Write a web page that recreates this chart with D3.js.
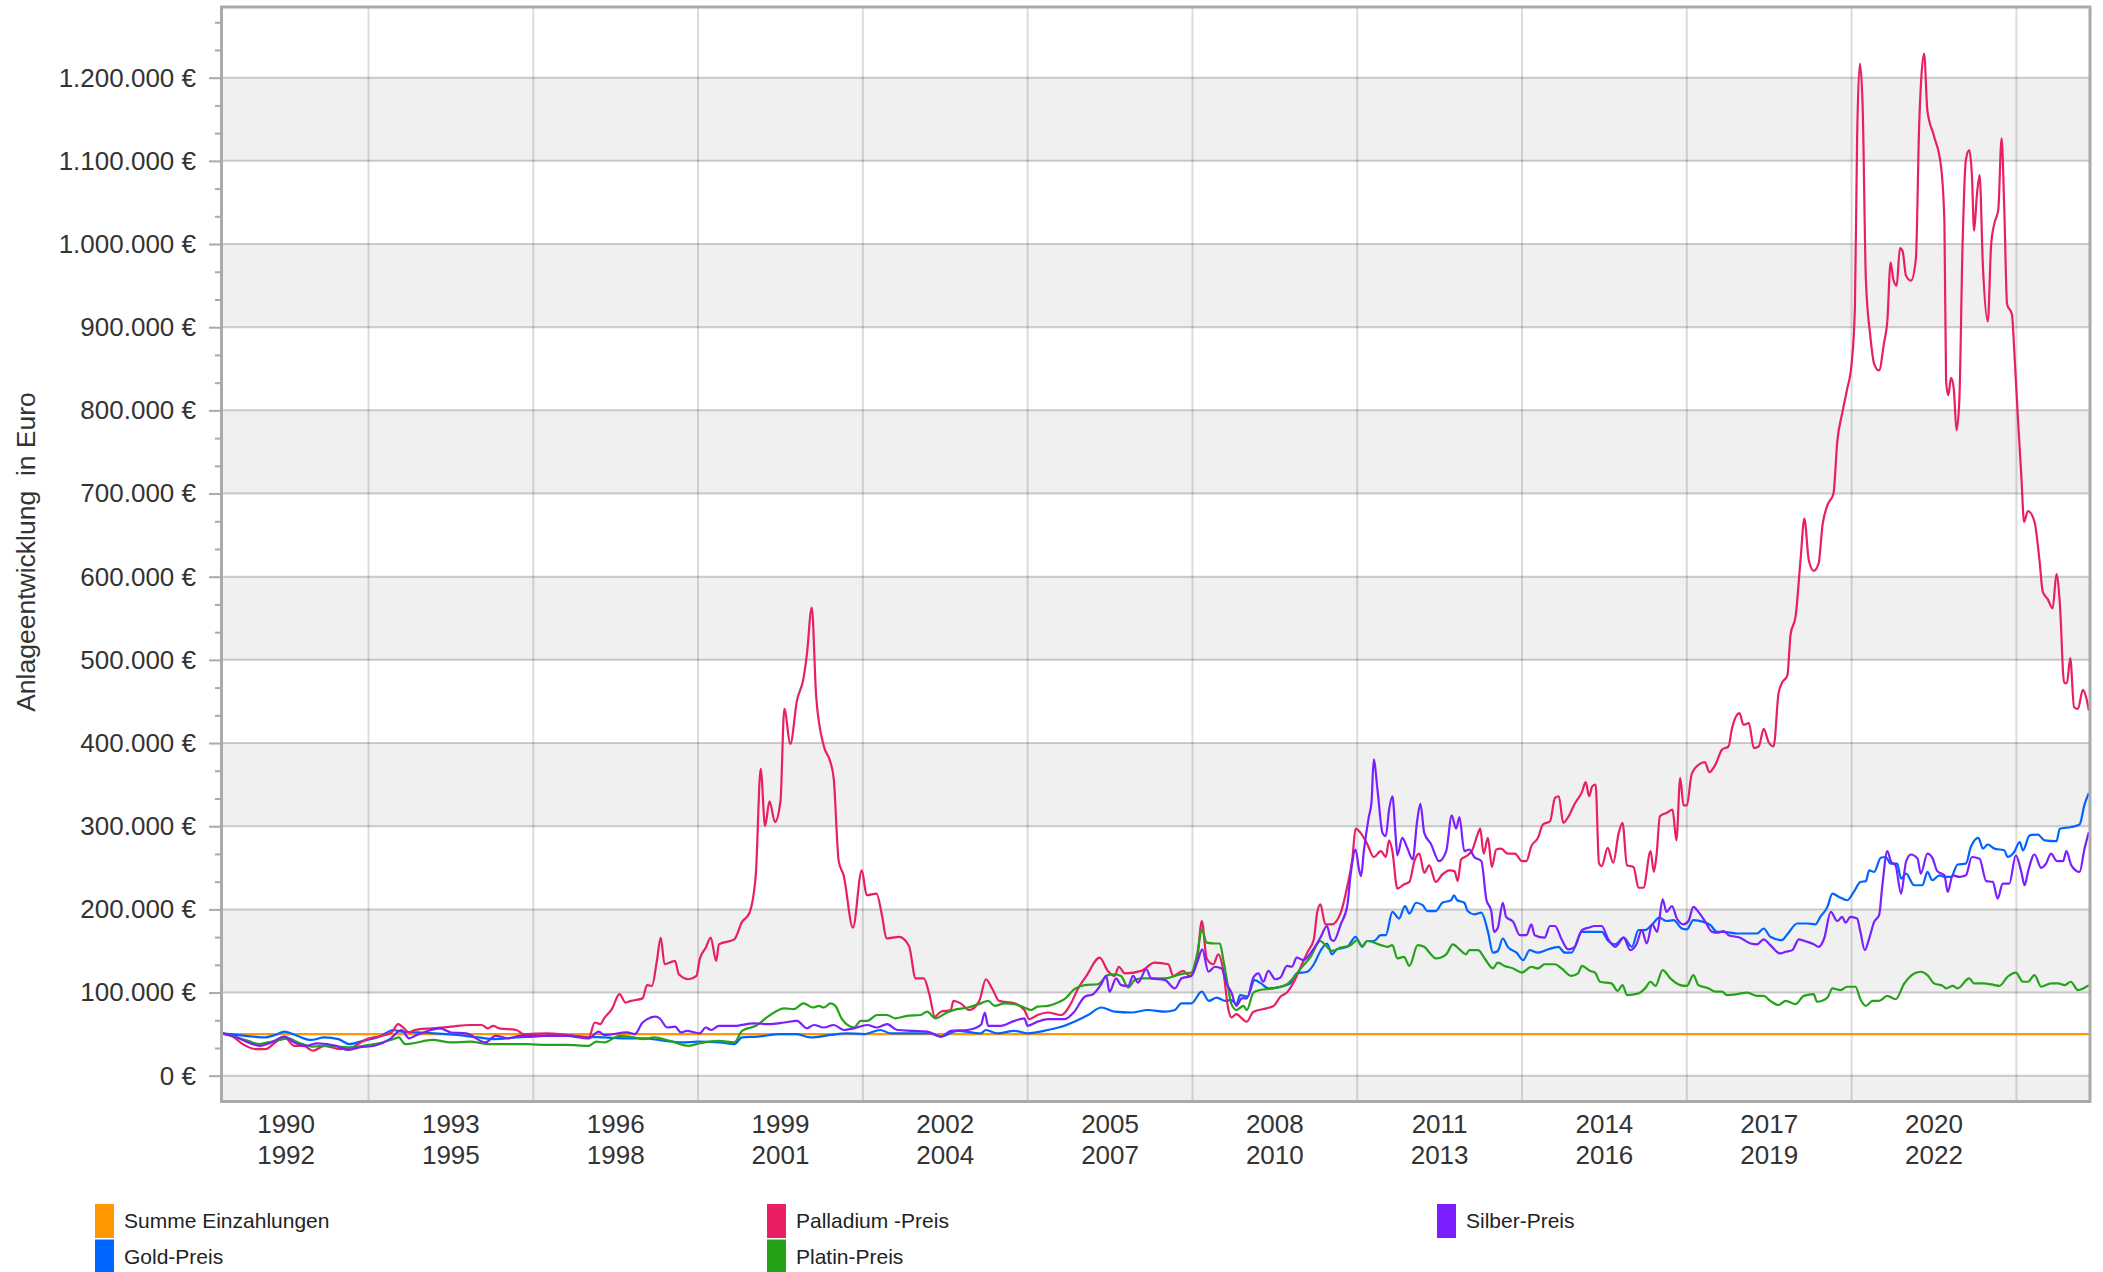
<!DOCTYPE html>
<html><head><meta charset="utf-8">
<script src="https://cdn.jsdelivr.net/npm/d3@7"></script>
<style>body{margin:0;background:#fff}svg{display:block;font-family:"Liberation Sans",Arial,Helvetica,sans-serif}</style>
</head><body><svg id="chart" width="2103" height="1272"></svg>
<script>
// values: [year, thousand EUR]
const summeData = [[1990.33,50],[2024.34,50]];
const goldData = [[1990.33,51],[1990.6,49],[1990.9,47],[1991.1,46],[1991.3,49],[1991.47,53],[1991.7,48],[1991.95,43],[1992.2,46],[1992.45,44],[1992.65,38],[1992.9,42],[1993.2,47],[1993.45,55],[1993.6,53],[1993.9,52],[1994.2,51],[1994.6,49],[1995.0,46],[1995.3,44],[1995.7,46],[1996.0,47],[1996.5,49],[1996.9,47],[1997.3,46],[1997.7,45],[1998.0,45],[1998.4,42],[1998.7,40],[1999.0,41],[1999.4,40],[1999.66,38],[1999.8,46],[2000.08,47],[2000.5,50],[2000.8,50],[2001.04,46],[2001.41,49],[2001.71,51],[2002.02,50],[2002.32,55],[2002.5,51],[2002.93,51],[2003.24,51],[2003.42,47],[2003.72,54],[2004.15,51],[2004.24,55],[2004.45,51],[2004.76,54],[2005.0,51],[2005.37,55],[2005.67,60],[2005.85,65],[2006.1,73],[2006.34,82],[2006.58,77],[2006.89,76],[2007.19,79],[2007.5,77],[2007.68,79],[2007.8,87],[2007.98,87],[2008.17,101],[2008.3,90],[2008.44,94],[2008.6,90],[2008.71,91],[2008.8,86],[2008.87,97],[2009.0,95],[2009.13,115],[2009.25,111],[2009.38,105],[2009.6,107],[2009.78,111],[2009.9,123],[2010.09,125],[2010.21,134],[2010.33,150],[2010.45,159],[2010.54,146],[2010.63,152],[2010.82,155],[2010.97,167],[2011.09,155],[2011.18,162],[2011.3,162],[2011.43,169],[2011.52,169],[2011.64,197],[2011.76,189],[2011.87,204],[2011.95,195],[2012.07,208],[2012.19,205],[2012.28,198],[2012.43,198],[2012.55,208],[2012.71,211],[2012.76,217],[2012.82,211],[2012.95,208],[2013.01,198],[2013.13,194],[2013.26,196],[2013.38,173],[2013.47,148],[2013.56,150],[2013.65,165],[2013.74,155],[2013.9,148],[2014.02,139],[2014.14,151],[2014.29,148],[2014.48,152],[2014.66,155],[2014.78,148],[2014.9,148],[2015.09,173],[2015.21,173],[2015.45,173],[2015.57,162],[2015.7,158],[2015.85,166],[2016.0,155],[2016.12,175],[2016.24,175],[2016.37,182],[2016.5,190],[2016.63,186],[2016.76,187],[2016.91,177],[2017.0,176],[2017.12,187],[2017.3,185],[2017.43,181],[2017.55,173],[2017.67,173],[2017.91,171],[2018.16,171],[2018.28,171],[2018.4,177],[2018.52,167],[2018.73,163],[2018.83,170],[2019.01,183],[2019.19,183],[2019.34,182],[2019.43,191],[2019.56,203],[2019.65,219],[2019.77,215],[2019.92,211],[2020.04,221],[2020.16,233],[2020.26,234],[2020.32,247],[2020.41,245],[2020.53,262],[2020.62,263],[2020.71,255],[2020.83,255],[2020.9,237],[2020.99,243],[2021.14,229],[2021.29,229],[2021.38,245],[2021.47,235],[2021.6,241],[2021.69,239],[2021.81,239],[2021.93,254],[2022.08,255],[2022.17,275],[2022.31,286],[2022.39,273],[2022.48,278],[2022.6,273],[2022.78,271],[2022.84,263],[2022.96,269],[2023.06,281],[2023.12,271],[2023.24,289],[2023.39,290],[2023.51,283],[2023.73,282],[2023.79,297],[2024.0,299],[2024.15,302],[2024.24,326],[2024.32,340]];
const palladiumData = [[1990.33,51],[1990.53,47],[1990.71,38],[1990.95,32],[1991.13,32],[1991.3,40],[1991.47,46],[1991.65,36],[1991.82,36],[1991.99,30],[1992.2,36],[1992.48,32],[1992.69,34],[1992.97,44],[1993.25,48],[1993.42,52],[1993.54,62],[1993.63,58],[1993.74,52],[1993.84,55],[1994.16,57],[1994.51,59],[1994.85,61],[1995.06,61],[1995.17,57],[1995.27,60],[1995.38,57],[1995.69,55],[1995.83,50],[1996.25,51],[1996.6,49],[1997.01,46],[1997.12,64],[1997.22,62],[1997.29,69],[1997.43,80],[1997.57,98],[1997.68,88],[1997.78,90],[1997.99,93],[1998.07,109],[1998.16,108],[1998.25,138],[1998.32,166],[1998.39,134],[1998.58,138],[1998.65,122],[1998.83,116],[1998.97,120],[1999.03,140],[1999.14,154],[1999.23,166],[1999.33,138],[1999.38,158],[1999.66,164],[1999.8,185],[1999.93,195],[2000.05,241],[2000.14,369],[2000.22,300],[2000.3,330],[2000.4,305],[2000.5,330],[2000.57,441],[2000.68,399],[2000.8,451],[2000.92,478],[2000.98,506],[2001.07,563],[2001.15,456],[2001.29,396],[2001.41,377],[2001.47,357],[2001.56,258],[2001.65,241],[2001.82,178],[2001.98,247],[2002.07,217],[2002.25,219],[2002.35,192],[2002.43,165],[2002.66,167],[2002.84,156],[2002.96,117],[2003.11,117],[2003.21,98],[2003.31,71],[2003.42,77],[2003.6,79],[2003.65,90],[2003.78,87],[2003.94,79],[2004.12,90],[2004.24,116],[2004.36,104],[2004.48,90],[2004.76,87],[2004.94,79],[2005.03,68],[2005.18,73],[2005.37,76],[2005.61,73],[2005.79,87],[2005.91,104],[2006.07,120],[2006.31,142],[2006.46,126],[2006.58,120],[2006.66,131],[2006.77,123],[2007.07,126],[2007.31,136],[2007.56,134],[2007.65,120],[2007.83,126],[2007.95,120],[2008.09,142],[2008.17,186],[2008.26,141],[2008.38,134],[2008.47,146],[2008.56,127],[2008.65,81],[2008.71,70],[2008.8,74],[2008.93,67],[2008.99,65],[2009.11,77],[2009.35,81],[2009.48,84],[2009.6,95],[2009.72,100],[2009.84,112],[2009.96,129],[2010.09,148],[2010.21,164],[2010.27,196],[2010.33,206],[2010.42,182],[2010.54,182],[2010.7,196],[2010.82,228],[2010.91,260],[2010.97,297],[2011.06,292],[2011.18,279],[2011.3,263],[2011.43,270],[2011.52,263],[2011.58,283],[2011.64,270],[2011.73,225],[2011.85,230],[2011.95,233],[2012.04,258],[2012.13,267],[2012.22,244],[2012.31,253],[2012.43,233],[2012.55,242],[2012.68,247],[2012.77,246],[2012.83,234],[2012.89,260],[2013.01,265],[2013.1,272],[2013.18,288],[2013.24,297],[2013.3,267],[2013.38,286],[2013.45,251],[2013.53,272],[2013.62,273],[2013.74,267],[2013.87,267],[2014.0,258],[2014.08,258],[2014.17,276],[2014.29,286],[2014.38,302],[2014.51,306],[2014.6,334],[2014.67,336],[2014.75,304],[2014.84,311],[2014.96,327],[2015.09,341],[2015.16,353],[2015.22,336],[2015.28,348],[2015.34,350],[2015.4,256],[2015.45,252],[2015.56,274],[2015.66,256],[2015.76,292],[2015.83,304],[2015.91,253],[2016.03,251],[2016.12,226],[2016.21,226],[2016.34,270],[2016.4,245],[2016.45,266],[2016.51,312],[2016.63,316],[2016.74,320],[2016.81,283],[2016.88,358],[2016.94,325],[2017.0,325],[2017.09,363],[2017.24,375],[2017.33,377],[2017.41,365],[2017.52,374],[2017.64,392],[2017.76,396],[2017.82,417],[2017.96,436],[2018.03,422],[2018.13,424],[2018.22,394],[2018.31,396],[2018.4,417],[2018.49,401],[2018.58,396],[2018.67,460],[2018.73,472],[2018.83,481],[2018.89,531],[2018.98,552],[2019.07,620],[2019.14,670],[2019.22,620],[2019.31,607],[2019.4,616],[2019.47,662],[2019.56,686],[2019.67,700],[2019.74,763],[2019.83,797],[2019.92,826],[2020.0,856],[2020.06,923],[2020.1,1126],[2020.15,1217],[2020.2,1168],[2020.26,957],[2020.34,890],[2020.41,856],[2020.5,848],[2020.59,881],[2020.65,907],[2020.71,978],[2020.76,957],[2020.82,950],[2020.88,995],[2020.93,991],[2020.99,962],[2021.08,956],[2021.17,982],[2021.23,1143],[2021.27,1201],[2021.32,1229],[2021.38,1160],[2021.5,1130],[2021.63,1092],[2021.69,1025],[2021.72,835],[2021.76,818],[2021.81,839],[2021.86,826],[2021.91,776],[2021.96,810],[2022.02,999],[2022.08,1101],[2022.14,1113],[2022.19,1083],[2022.23,1016],[2022.28,1058],[2022.33,1083],[2022.39,974],[2022.48,907],[2022.54,999],[2022.6,1025],[2022.67,1041],[2022.73,1127],[2022.78,1041],[2022.83,928],[2022.92,915],[2022.96,873],[2023.03,788],[2023.09,721],[2023.14,666],[2023.21,679],[2023.33,666],[2023.42,620],[2023.48,582],[2023.57,573],[2023.66,562],[2023.73,603],[2023.79,569],[2023.87,472],[2023.92,472],[2023.98,502],[2024.05,443],[2024.12,441],[2024.21,464],[2024.27,455],[2024.32,439]];
const platinData = [[1990.33,51],[1990.6,46],[1990.81,42],[1991.0,38],[1991.16,40],[1991.37,43],[1991.54,45],[1991.72,40],[1991.99,35],[1992.27,36],[1992.62,34],[1992.9,36],[1993.25,40],[1993.45,44],[1993.55,46],[1993.67,38],[1993.81,39],[1994.16,43],[1994.5,40],[1994.85,41],[1995.2,38],[1995.55,38],[1995.9,38],[1996.25,37],[1996.6,37],[1997.01,36],[1997.15,41],[1997.29,40],[1997.57,48],[1997.85,46],[1998.0,44],[1998.2,46],[1998.48,42],[1998.83,36],[1999.03,39],[1999.38,42],[1999.66,40],[1999.8,54],[2000.05,60],[2000.29,72],[2000.57,81],[2000.74,80],[2000.92,87],[2001.09,82],[2001.2,84],[2001.29,82],[2001.41,87],[2001.5,84],[2001.62,68],[2001.84,58],[2001.96,66],[2002.08,66],[2002.26,73],[2002.44,73],[2002.59,69],[2002.8,72],[2003.05,73],[2003.17,77],[2003.32,69],[2003.53,76],[2003.71,80],[2003.91,82],[2004.15,87],[2004.28,90],[2004.4,84],[2004.58,87],[2004.76,86],[2004.94,82],[2005.06,79],[2005.18,83],[2005.37,84],[2005.55,88],[2005.67,92],[2005.85,104],[2006.04,109],[2006.28,110],[2006.46,121],[2006.58,122],[2006.7,120],[2006.83,106],[2006.95,115],[2007.07,117],[2007.5,117],[2007.68,120],[2007.86,123],[2007.98,124],[2008.09,148],[2008.17,176],[2008.26,160],[2008.4,159],[2008.5,159],[2008.56,140],[2008.62,118],[2008.71,86],[2008.8,79],[2008.93,84],[2008.99,79],[2009.11,100],[2009.23,103],[2009.48,105],[2009.72,110],[2009.84,118],[2009.96,128],[2010.15,143],[2010.33,162],[2010.42,157],[2010.54,150],[2010.7,154],[2010.88,157],[2011.0,163],[2011.09,156],[2011.18,162],[2011.43,157],[2011.55,155],[2011.64,157],[2011.73,141],[2011.85,143],[2011.95,132],[2012.1,157],[2012.22,155],[2012.34,146],[2012.43,141],[2012.62,146],[2012.74,158],[2012.86,152],[2012.98,146],[2013.04,151],[2013.2,151],[2013.32,141],[2013.47,129],[2013.56,136],[2013.68,132],[2013.84,129],[2014.0,124],[2014.17,131],[2014.29,129],[2014.41,134],[2014.6,134],[2014.72,129],[2014.9,120],[2015.02,123],[2015.09,132],[2015.24,126],[2015.33,124],[2015.42,113],[2015.63,111],[2015.74,102],[2015.83,109],[2015.91,97],[2016.12,99],[2016.24,105],[2016.34,113],[2016.43,108],[2016.56,127],[2016.7,117],[2016.88,109],[2017.0,108],[2017.12,121],[2017.21,109],[2017.4,105],[2017.52,101],[2017.64,101],[2017.73,97],[2017.91,98],[2018.1,100],[2018.28,96],[2018.4,96],[2018.52,90],[2018.67,85],[2018.8,90],[2018.98,86],[2019.13,96],[2019.31,98],[2019.37,89],[2019.56,94],[2019.65,105],[2019.8,103],[2019.92,107],[2020.07,107],[2020.16,92],[2020.26,84],[2020.38,90],[2020.5,90],[2020.65,96],[2020.8,92],[2020.96,111],[2021.14,123],[2021.26,125],[2021.38,121],[2021.5,111],[2021.66,108],[2021.72,105],[2021.84,108],[2021.93,105],[2022.14,117],[2022.23,111],[2022.39,111],[2022.6,109],[2022.69,108],[2022.84,119],[2022.99,124],[2023.12,113],[2023.21,113],[2023.33,121],[2023.45,107],[2023.63,111],[2023.76,111],[2023.88,109],[2023.99,113],[2024.12,103],[2024.32,109]];
const silberData = [[1990.33,51],[1990.53,48],[1990.74,42],[1991.02,36],[1991.23,40],[1991.47,47],[1991.65,40],[1991.86,36],[1992.07,39],[1992.41,36],[1992.62,31],[1992.83,34],[1993.11,36],[1993.39,44],[1993.6,55],[1993.74,45],[1993.88,49],[1994.09,54],[1994.3,57],[1994.51,52],[1994.78,51],[1995.13,40],[1995.31,48],[1995.55,45],[1995.76,48],[1996.11,48],[1996.6,48],[1997.01,45],[1997.19,53],[1997.29,49],[1997.71,52],[1997.85,50],[1997.99,64],[1998.23,71],[1998.3,69],[1998.44,58],[1998.58,59],[1998.69,52],[1998.79,54],[1999.03,51],[1999.14,58],[1999.24,55],[1999.38,60],[1999.66,60],[2000.01,63],[2000.29,62],[2000.57,64],[2000.8,66],[2000.98,57],[2001.11,61],[2001.29,58],[2001.47,61],[2001.65,55],[2001.84,57],[2002.08,61],[2002.26,58],[2002.44,62],[2002.63,55],[2002.93,54],[2003.17,53],[2003.42,47],[2003.6,54],[2003.91,55],[2004.15,61],[2004.22,76],[2004.28,60],[2004.51,60],[2004.76,66],[2004.94,69],[2005.0,60],[2005.18,65],[2005.37,68],[2005.67,68],[2005.85,77],[2006.04,95],[2006.19,98],[2006.34,110],[2006.43,120],[2006.49,101],[2006.61,117],[2006.7,109],[2006.83,108],[2006.92,120],[2007.01,112],[2007.16,128],[2007.25,117],[2007.5,115],[2007.68,105],[2007.8,117],[2007.98,120],[2008.09,137],[2008.18,152],[2008.29,125],[2008.41,131],[2008.53,129],[2008.62,111],[2008.71,100],[2008.8,84],[2008.9,93],[2008.99,93],[2009.11,118],[2009.2,123],[2009.29,113],[2009.38,126],[2009.51,116],[2009.6,118],[2009.72,132],[2009.81,131],[2009.9,142],[2010.02,139],[2010.18,150],[2010.33,166],[2010.45,180],[2010.52,164],[2010.57,162],[2010.7,182],[2010.82,205],[2010.88,242],[2010.97,272],[2011.03,249],[2011.07,240],[2011.12,270],[2011.21,311],[2011.26,329],[2011.3,380],[2011.37,343],[2011.46,292],[2011.52,288],[2011.58,320],[2011.64,336],[2011.7,288],[2011.73,265],[2011.82,286],[2011.91,274],[2012.01,260],[2012.09,306],[2012.15,327],[2012.22,292],[2012.34,279],[2012.49,258],[2012.62,270],[2012.72,313],[2012.8,297],[2012.86,311],[2012.95,270],[2013.04,272],[2013.13,263],[2013.26,258],[2013.35,212],[2013.44,198],[2013.49,173],[2013.56,178],[2013.65,208],[2013.71,191],[2013.84,185],[2013.96,169],[2014.08,169],[2014.17,182],[2014.23,169],[2014.41,166],[2014.51,180],[2014.6,180],[2014.72,164],[2014.84,152],[2014.96,155],[2015.09,175],[2015.21,178],[2015.33,180],[2015.45,180],[2015.57,164],[2015.7,155],[2015.85,166],[2015.97,151],[2016.09,159],[2016.18,175],[2016.27,159],[2016.37,182],[2016.46,173],[2016.56,212],[2016.63,197],[2016.73,204],[2016.82,189],[2016.94,182],[2017.03,186],[2017.12,203],[2017.21,197],[2017.33,186],[2017.46,173],[2017.58,172],[2017.67,174],[2017.76,169],[2017.97,166],[2018.16,159],[2018.28,158],[2018.4,164],[2018.52,157],[2018.7,147],[2018.8,149],[2018.92,151],[2019.04,164],[2019.19,161],[2019.31,158],[2019.4,155],[2019.5,165],[2019.62,197],[2019.74,186],[2019.83,191],[2019.89,184],[2019.98,191],[2020.1,189],[2020.16,173],[2020.24,151],[2020.32,165],[2020.41,185],[2020.5,193],[2020.56,229],[2020.65,270],[2020.72,257],[2020.8,253],[2020.9,219],[2020.99,257],[2021.08,266],[2021.2,261],[2021.26,243],[2021.38,267],[2021.47,262],[2021.56,246],[2021.69,241],[2021.75,221],[2021.84,241],[2021.96,239],[2022.08,241],[2022.19,263],[2022.33,261],[2022.45,234],[2022.57,233],[2022.66,213],[2022.75,231],[2022.87,231],[2022.99,265],[2023.09,245],[2023.15,229],[2023.21,245],[2023.33,266],[2023.45,250],[2023.54,255],[2023.63,267],[2023.74,258],[2023.85,258],[2023.91,270],[2024.0,253],[2024.15,245],[2024.24,273],[2024.32,293]];

const seriesNames = ["Summe Einzahlungen","Gold-Preis","Palladium -Preis","Platin-Preis","Silber-Preis"];
const seriesValues = [summeData, goldData, palladiumData, platinData, silberData];
const yTickValues = [0,100000,200000,300000,400000,500000,600000,700000,800000,900000,1000000,1100000,1200000];
const xGridYears = [1993,1996,1999,2002,2005,2008,2011,2014,2017,2020,2023];
const xLabelTop = ["1990","1993","1996","1999","2002","2005","2008","2011","2014","2017","2020"];
const xLabelBottom = ["1992","1995","1998","2001","2004","2007","2010","2013","2016","2019","2022"];
const yTitle = "Anlageentwicklung  in Euro";

// styling
const seriesColors = ["#ff9800","#0064ff","#e91e63","#25a318","#7a1fff"];
const FONT = '"Liberation Sans", Arial, Helvetica, sans-serif';
const W = 2103, H = 1272;
const plot = {left:221.5, right:2090, top:7, bottom:1101.5};

const svg = d3.select('#chart');
svg.append('rect').attr('width',W).attr('height',H).attr('fill','#fff');

const x = d3.scaleLinear().domain([1990.324, 2024.34]).range([plot.left, plot.right]);
const y = d3.scaleLinear().domain([-31000, 1285000]).range([plot.bottom, plot.top]);

svg.append('defs').append('clipPath').attr('id','clip').append('rect')
  .attr('x',plot.left).attr('y',plot.top).attr('width',plot.right-plot.left).attr('height',plot.bottom-plot.top);
const g = svg.append('g').attr('clip-path','url(#clip)');

// alternating bands
const bandStarts = d3.range(-100000, 1200000, 200000);
g.selectAll('rect.band').data(bandStarts).join('rect').attr('class','band')
  .attr('x',plot.left).attr('width',plot.right-plot.left)
  .attr('y',d=>y(d+100000)).attr('height',d=>y(d)-y(d+100000)).attr('fill','#f0f0f0');

// vertical grid
g.selectAll('line.vg').data(xGridYears).join('line').attr('class','vg')
  .attr('x1',d=>x(d)).attr('x2',d=>x(d)).attr('y1',plot.top).attr('y2',plot.bottom)
  .attr('stroke','rgba(0,0,0,0.14)').attr('stroke-width',2);
// horizontal grid
g.selectAll('line.hg').data(yTickValues).join('line').attr('class','hg')
  .attr('x1',plot.left).attr('x2',plot.right).attr('y1',d=>y(d)).attr('y2',d=>y(d))
  .attr('stroke','rgba(0,0,0,0.19)').attr('stroke-width',2);

// lines
const line = d3.line().x(d=>x(d[0])).y(d=>y(d[1]*1000)).curve(d3.curveMonotoneX);
seriesValues.forEach((data,i)=>{
  g.append('path').attr('d',line(data)).attr('fill','none')
   .attr('stroke',seriesColors[i]).attr('stroke-width',2.2).attr('stroke-linejoin','round');
});

// frame
svg.append('rect').attr('x',plot.left).attr('y',plot.top).attr('width',plot.right-plot.left).attr('height',plot.bottom-plot.top)
  .attr('fill','none').attr('stroke','#aaaaaa').attr('stroke-width',3);

// y axis
const loc = d3.formatLocale({decimal:',', thousands:'.', grouping:[3], currency:['','']});
const fmt = loc.format(',.0f');
const yAxis = d3.axisLeft(y).tickValues(yTickValues).tickSize(11).tickPadding(13).tickFormat(d=>fmt(d)+' €');
const ya = svg.append('g').attr('transform',`translate(${plot.left-1.5},0)`).call(yAxis)
  .attr('font-size',26).attr('font-family',FONT);
ya.select('.domain').remove();
ya.selectAll('.tick line').attr('stroke','#aaaaaa').attr('stroke-width',2);
ya.selectAll('.tick text').attr('fill','#333');

const minorTicks = d3.range(1,39).filter(i=>i%3!==0).map(i=>i*100000/3);
const yMinor = d3.axisLeft(y).tickValues(minorTicks).tickSize(5).tickFormat('');
const ym = svg.append('g').attr('transform',`translate(${plot.left-1.5},0)`).call(yMinor);
ym.select('.domain').remove();
ym.selectAll('.tick line').attr('stroke','#aaaaaa').attr('stroke-width',2);

// y title
svg.append('text').attr('transform',`translate(26,552) rotate(-90)`)
  .attr('text-anchor','middle').attr('dominant-baseline','central')
  .style('white-space','pre').attr('font-family',FONT).attr('font-size',26.5).attr('fill','#333')
  .text(yTitle);

// x labels
const xl = svg.append('g').attr('font-family',FONT).attr('font-size',26).attr('fill','#333').attr('text-anchor','middle');
xl.selectAll('text.t').data(xLabelTop).join('text').attr('class','t')
  .attr('x',d=>x(+d+1.5)).attr('y',1133).text(d=>d);
xl.selectAll('text.b').data(xLabelBottom).join('text').attr('class','b')
  .attr('x',(d,i)=>x(+xLabelTop[i]+1.5)).attr('y',1164).text(d=>d);

// legend
const legCols = [95, 767, 1437];
const legRows = [1204, 1239.5];
const leg = svg.append('g').attr('font-family',FONT).attr('font-size',21).attr('fill','#222');
seriesNames.forEach((name,i)=>{
  const cx = legCols[Math.floor(i/2)], ry = legRows[i%2];
  leg.append('rect').attr('x',cx).attr('y',ry).attr('width',19).attr('height',34).attr('fill',seriesColors[i]);
  leg.append('text').attr('x',cx+29).attr('y',ry+24).text(name);
});
</script>
</body></html>
